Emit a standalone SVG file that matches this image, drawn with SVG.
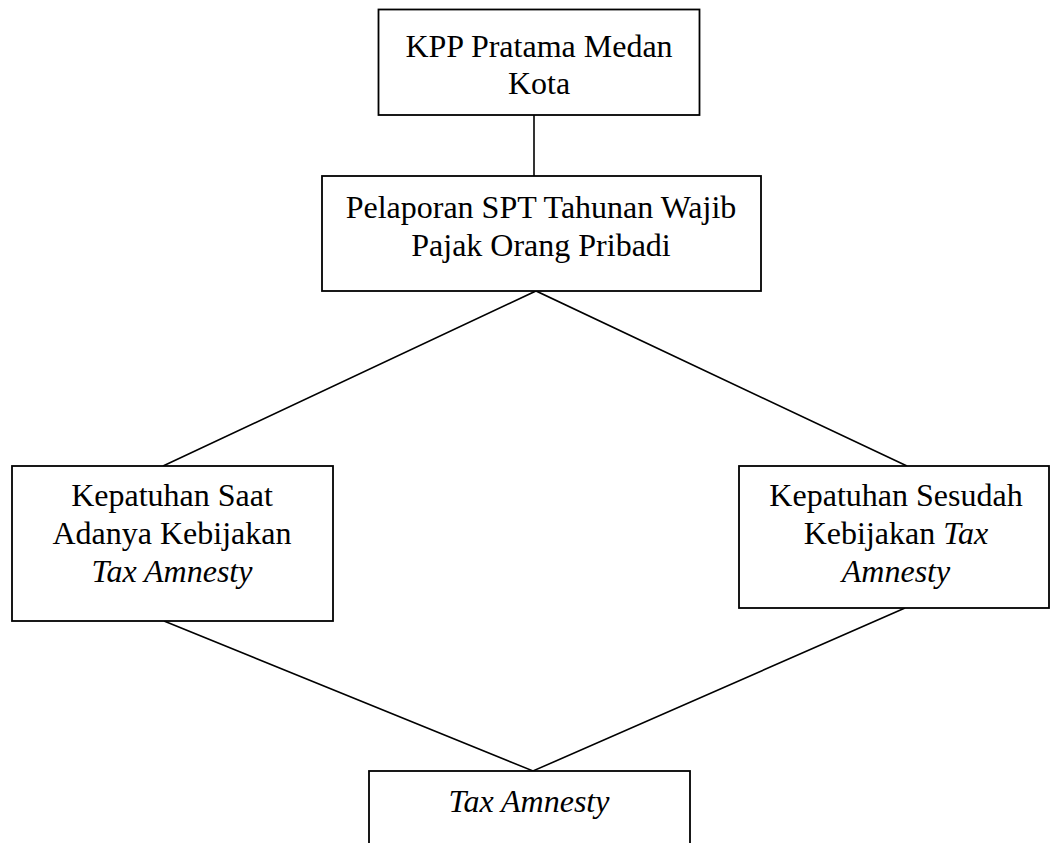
<svg xmlns="http://www.w3.org/2000/svg" width="1051" height="843" viewBox="0 0 1051 843">
<style>
.box{fill:#fff;stroke:#000;stroke-width:1.8}
.t{font-family:"Liberation Serif","Times New Roman",serif;font-size:32px;fill:#000;text-anchor:middle}
.i{font-style:italic}
.c{stroke:#000;stroke-width:1.6;fill:none}
</style>
<rect width="1051" height="843" fill="#fff"/>
<g id="connectors">
<line class="c" x1="534" y1="115" x2="534" y2="176"/>
<polyline class="c" points="163,466 536,291 907,466"/>
<polyline class="c" points="164,621 533,771 905,608"/>
</g>
<g id="kpp">
<rect class="box" x="378.5" y="9.5" width="321" height="105.5"/>
<text class="t" x="539" y="57">KPP Pratama Medan</text>
<text class="t" x="539" y="94">Kota</text>
</g>
<g id="pelaporan">
<rect class="box" x="322" y="176" width="439" height="115"/>
<text class="t" x="541" y="218">Pelaporan SPT Tahunan Wajib</text>
<text class="t" x="541" y="256">Pajak Orang Pribadi</text>
</g>
<g id="saat">
<rect class="box" x="12" y="466" width="321" height="155"/>
<text class="t" x="172" y="506">Kepatuhan Saat</text>
<text class="t" x="172" y="544">Adanya Kebijakan</text>
<text class="t i" x="172" y="582">Tax Amnesty</text>
</g>
<g id="sesudah">
<rect class="box" x="739" y="466" width="310" height="142"/>
<text class="t" x="896" y="506">Kepatuhan Sesudah</text>
<text class="t" x="896" y="544">Kebijakan <tspan class="i">Tax</tspan></text>
<text class="t i" x="896" y="582">Amnesty</text>
</g>
<g id="taxamnesty">
<rect class="box" x="369" y="771" width="321" height="90"/>
<text class="t i" x="529" y="812">Tax Amnesty</text>
</g>
</svg>
